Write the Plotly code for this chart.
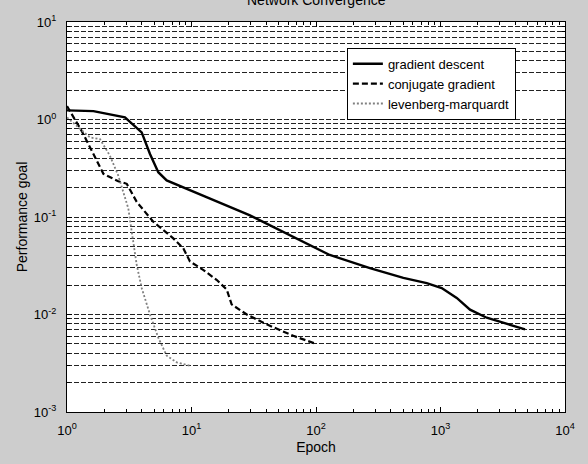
import plotly.graph_objects as go

# Data
gd_epoch = [1.0, 1.63, 2.92, 3.98, 4.64, 5.41, 6.32, 9.72, 14.1, 29.5, 61.8, 129, 271, 503, 775, 1022, 1350, 1726, 2350, 3193, 4775]
gd_perf = [1.24, 1.22, 1.05, 0.737, 0.443, 0.288, 0.237, 0.187, 0.154, 0.104, 0.0653, 0.0408, 0.0299, 0.0237, 0.0210, 0.0187, 0.0148, 0.0112, 0.00927, 0.00824, 0.00704]

cg_epoch = [1.0, 1.31, 1.63, 1.96, 2.58, 3.02, 3.63, 4.93, 7.14, 8.59, 9.72, 12.4, 15.9, 19.2, 21.0, 27.8, 40.2, 65.8, 100]
cg_perf = [1.37, 0.765, 0.443, 0.277, 0.233, 0.219, 0.143, 0.0894, 0.0604, 0.0478, 0.0350, 0.0287, 0.0227, 0.0180, 0.0127, 0.0100, 0.00792, 0.00604, 0.0050]

lm_epoch = [1.0, 1.27, 1.53, 1.84, 2.21, 2.58, 2.92, 3.11, 3.31, 3.63, 3.98, 4.64, 5.41, 6.32, 7.61, 9.72]
lm_perf = [1.05, 0.796, 0.655, 0.629, 0.426, 0.266, 0.154, 0.122, 0.0706, 0.0323, 0.0187, 0.0100, 0.00579, 0.00378, 0.00323, 0.00299]

series_names = ["gradient descent", "conjugate gradient", "levenberg-marquardt"]

x_major = [1, 10, 100, 1000, 10000]
x_labels = ["10<sup>0</sup>", "10<sup>1</sup>", "10<sup>2</sup>", "10<sup>3</sup>", "10<sup>4</sup>"]
y_major = [0.001, 0.01, 0.1, 1, 10]
y_labels = ["10<sup>-3</sup>", "10<sup>-2</sup>", "10<sup>-1</sup>", "10<sup>0</sup>", "10<sup>1</sup>"]

x_minor = [k * 10 ** n for n in range(0, 4) for k in range(2, 10)]
y_minor = [k * 10.0 ** n for n in range(-3, 1) for k in range(2, 10)]

FONT = "Liberation Sans, Arial, Helvetica, sans-serif"

fig = go.Figure()
fig.add_trace(go.Scatter(x=gd_epoch, y=gd_perf, mode="lines", name=series_names[0],
                         line=dict(color="black", width=2.4, dash="solid")))
fig.add_trace(go.Scatter(x=cg_epoch, y=cg_perf, mode="lines", name=series_names[1],
                         line=dict(color="black", width=2.2, dash="6px,3px")))
fig.add_trace(go.Scatter(x=lm_epoch, y=lm_perf, mode="lines", name=series_names[2],
                         line=dict(color="#808080", width=1.8, dash="2px,2px")))

fig.update_layout(
    width=588, height=464,
    margin=dict(l=67, r=23, t=22, b=49),
    paper_bgcolor="#cdcdcd",
    plot_bgcolor="white",
    font=dict(family=FONT, size=13, color="black"),
    showlegend=True,
    legend=dict(x=0.562, y=0.934, xanchor="left", yanchor="top",
                bgcolor="white", bordercolor="black", borderwidth=1,
                font=dict(family=FONT, size=13, color="black"),
                tracegroupgap=0, itemwidth=30),
    xaxis=dict(type="log", range=[0, 4], tickmode="array", tickvals=x_major, ticktext=x_labels,
               showline=True, linecolor="black", linewidth=1, mirror="ticks",
               ticks="inside", ticklen=5, tickcolor="black",
               showgrid=False, zeroline=False, ticklabelstandoff=6,
               tickfont=dict(family=FONT, size=13),
               minor=dict(tickmode="array", tickvals=x_minor, ticks="inside", ticklen=3,
                          tickcolor="black", showgrid=False),
               title=dict(text="Epoch", font=dict(family=FONT, size=14), standoff=5)),
    yaxis=dict(type="log", range=[-3, 1], tickmode="array", tickvals=y_major, ticktext=y_labels,
               showline=True, linecolor="black", linewidth=1, mirror="ticks",
               ticks="inside", ticklen=5, tickcolor="black",
               showgrid=True, gridcolor="#222222", gridwidth=1, griddash="5px,2px",
               zeroline=False, ticklabelstandoff=7,
               tickfont=dict(family=FONT, size=13),
               minor=dict(tickmode="array", tickvals=y_minor, ticks="inside", ticklen=3,
                          tickcolor="black", showgrid=True, gridcolor="#222222",
                          gridwidth=1, griddash="5px,2px"),
               title=dict(text="Performance goal", font=dict(family=FONT, size=14), standoff=2)),
    annotations=[dict(text="Network Convergence", xref="paper", yref="paper",
                      x=0.5, y=1 + 12 / 393, xanchor="center", yanchor="bottom",
                      showarrow=False, font=dict(family=FONT, size=14, color="black"))],
)

fig.write_html("out.html")
